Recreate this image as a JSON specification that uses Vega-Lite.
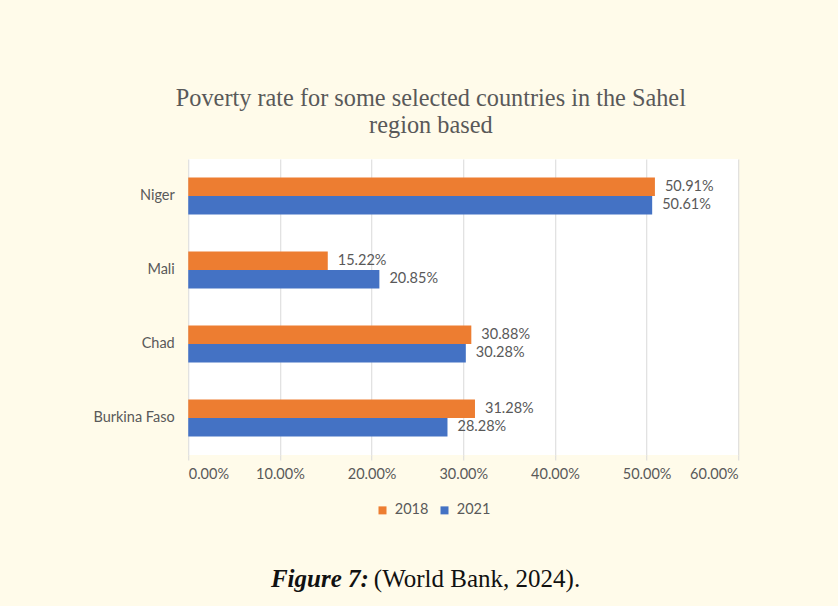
{
  "$schema": "https://vega.github.io/schema/vega-lite/v6.json",
  "background": "#fffbea",
  "padding": {"left": 92, "top": 86, "right": 110, "bottom": 60},
  "config": {
    "view": {"stroke": null},
    "font": "Lato",
    "legend": {"layout": {"bottom": {"anchor": "middle"}}}
  },
  "center": true,
  "spacing": 50,
  "resolve": {"legend": {"color": "independent"}},
  "vconcat": [
    {
      "title": {
        "text": ["Poverty rate for some selected countries in the Sahel", "region based"],
        "font": "Liberation Serif",
        "fontSize": 24.3,
        "fontWeight": "normal",
        "color": "#595959",
        "lineHeight": 27,
        "anchor": "middle",
        "frame": "bounds",
        "offset": 21,
        "dx": 15
      },
      "width": 550,
      "height": 296,
      "view": {"fill": "white", "stroke": null},
      "data": {
        "values": [
          {"country": "Niger", "year": "2018", "rate": 0.5091},
          {"country": "Niger", "year": "2021", "rate": 0.5061},
          {"country": "Mali", "year": "2018", "rate": 0.1522},
          {"country": "Mali", "year": "2021", "rate": 0.2085},
          {"country": "Chad", "year": "2018", "rate": 0.3088},
          {"country": "Chad", "year": "2021", "rate": 0.3028},
          {"country": "Burkina Faso", "year": "2018", "rate": 0.3128},
          {"country": "Burkina Faso", "year": "2021", "rate": 0.2828}
        ]
      },
      "encoding": {
        "y": {
          "field": "country",
          "type": "nominal",
          "sort": ["Niger", "Mali", "Chad", "Burkina Faso"],
          "scale": {"paddingInner": 0.5, "paddingOuter": 0.25},
          "axis": {"title": null, "domain": false, "ticks": false, "grid": false, "labelPadding": 14, "labelFontSize": 14.5, "labelColor": "#595959", "labelFont": "Lato"}
        },
        "yOffset": {
          "field": "year",
          "type": "nominal",
          "sort": ["2018", "2021"],
          "scale": {"paddingInner": 0, "paddingOuter": 0}
        },
        "x": {
          "field": "rate",
          "type": "quantitative",
          "scale": {"domain": [0, 0.6], "nice": false},
          "axis": {"title": null, "format": ".2%", "values": [0, 0.1, 0.2, 0.3, 0.4, 0.5, 0.6], "domain": false, "tickColor": "#d9d9d9", "tickSize": 5, "gridColor": "#d9d9d9", "labelColor": "#595959", "labelFontSize": 14.5, "labelPadding": 7, "labelFont": "Lato"}
        }
      },
      "layer": [
        {
          "mark": {"type": "bar"},
          "encoding": {
            "color": {
              "field": "year",
              "type": "nominal",
              "scale": {"domain": ["2018", "2021"], "range": ["#ED7D31", "#4472C4"]},
              "legend": {"title": " ", "titleOrient": "right", "titlePadding": 62, "titleFontSize": 14, "orient": "bottom", "direction": "horizontal", "symbolType": "square", "symbolSize": 64, "symbolStrokeWidth": 0, "labelFontSize": 14.5, "labelColor": "#595959", "labelFont": "Lato", "offset": 22, "columnPadding": 8, "labelOffset": 5}
            }
          }
        },
        {
          "mark": {"type": "text", "align": "left", "baseline": "middle", "dx": 10, "fontSize": 14.5, "color": "#595959", "font": "Lato"},
          "encoding": {"text": {"field": "rate", "type": "quantitative", "format": ".2%"}}
        }
      ]
    },
    {
      "width": 5,
      "height": 20,
      "data": {"values": [{"part": "Figure 7:"}, {"part": "(World Bank, 2024)."}]},
      "encoding": {
        "x": {"field": "part", "type": "nominal", "scale": {"type": "point", "padding": 0, "domain": ["Figure 7:", "(World Bank, 2024)."]}, "axis": null},
        "text": {"field": "part"}
      },
      "layer": [
        {
          "transform": [{"filter": "datum.part == 'Figure 7:'"}],
          "mark": {"type": "text", "align": "right", "baseline": "middle", "dx": 22, "font": "Liberation Serif", "fontSize": 25, "fontStyle": "italic", "fontWeight": "bold", "color": "#111111"}
        },
        {
          "transform": [{"filter": "datum.part != 'Figure 7:'"}],
          "mark": {"type": "text", "align": "left", "baseline": "middle", "dx": 22, "font": "Liberation Serif", "fontSize": 25, "color": "#111111"}
        }
      ]
    }
  ]
}
